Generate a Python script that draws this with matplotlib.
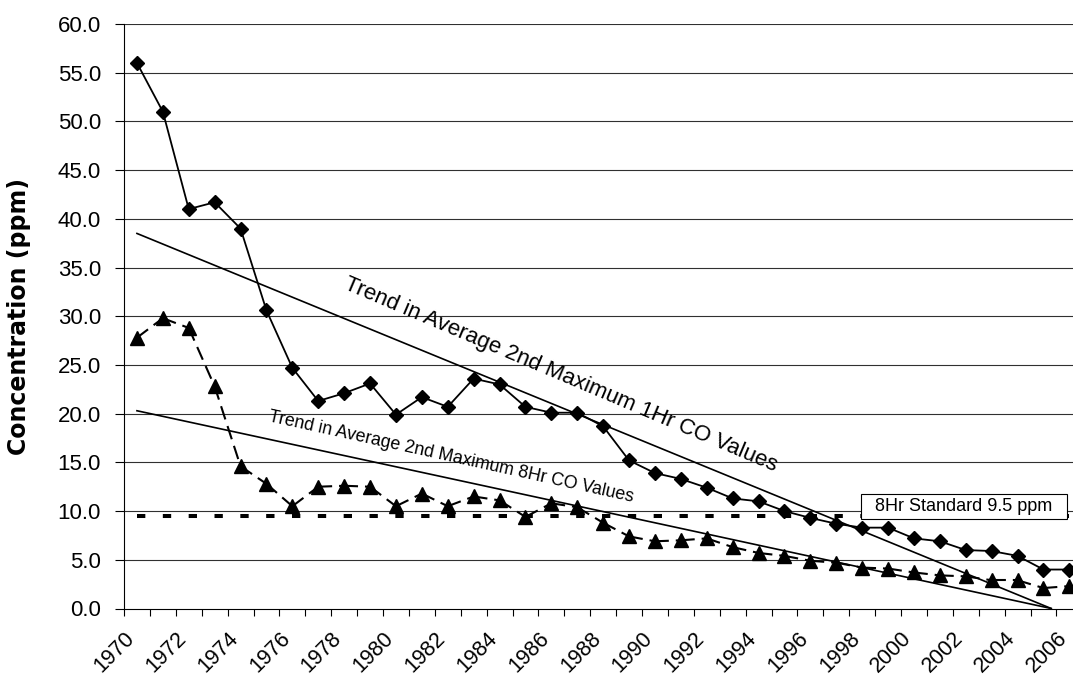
import matplotlib.pyplot as plt
import numpy as np
from matplotlib.patches import Rectangle

plt.rcParams['font.family'] = ['Liberation Sans', 'DejaVu Sans']
plt.rcParams['lines.scale_dashes'] = False

# 年份（每个类别一年）
years = np.arange(1970, 2007)

# 1小时CO平均第二最大值 (ppm)
co_1hr = [56.0, 51.0, 41.0, 41.7, 39.0, 30.6, 24.7, 21.3, 22.1, 23.1,
          19.9, 21.7, 20.7, 23.6, 23.0, 20.7, 20.1, 20.1, 18.7, 15.2,
          13.9, 13.3, 12.4, 11.3, 11.0, 10.0, 9.3, 8.7, 8.3, 8.3,
          7.2, 6.9, 6.0, 5.9, 5.4, 4.0, 4.0]

# 8小时CO平均第二最大值 (ppm)
co_8hr = [27.8, 29.8, 28.8, 22.8, 14.6, 12.8, 10.5, 12.5, 12.6, 12.5,
          10.5, 11.8, 10.5, 11.5, 11.1, 9.4, 10.8, 10.4, 8.8, 7.4,
          6.9, 7.0, 7.2, 6.3, 5.7, 5.4, 4.9, 4.7, 4.2, 4.1,
          3.7, 3.4, 3.3, 2.9, 2.9, 2.1, 2.3]

# 趋势线端点
trend_years = [1970, 2005.3]
trend_1hr = [38.5, 0.0]
trend_8hr = [20.3, 0.0]

# 8小时标准
std_8hr = 9.5
std_label = '8Hr Standard 9.5 ppm'

y_ticks = np.arange(0, 61, 5)

fig = plt.figure(figsize=(10.73, 6.81), dpi=100)
# 坐标区右侧超出画面（原图被裁切）
ax = fig.add_axes([124 / 1073, 72.5 / 681, 958.3 / 1073, 584.5 / 681])

x = years + 0.5  # 点位于类别中间

# 网格线
for v in y_ticks[1:]:
    ax.axhline(v, color='#303030', lw=0.8, zorder=1)

# 8小时标准虚线
ax.plot([x[0], x[-1]], [std_8hr, std_8hr], color='black', lw=2.9,
        dashes=(6, 12.6), solid_capstyle='butt', dash_capstyle='butt', zorder=2)

# 趋势线
ax.plot(np.array(trend_years) + 0.5, trend_1hr, color='black', lw=1.2, zorder=3)
ax.plot(np.array(trend_years) + 0.5, trend_8hr, color='black', lw=1.2, zorder=3)

# 1小时数据
ax.plot(x, co_1hr, color='black', lw=1.3, marker='D', markersize=7, zorder=4)

# 8小时数据：每段重新开始虚线（类似Excel）
for i in range(len(x) - 1):
    ax.plot(x[i:i + 2], co_8hr[i:i + 2], color='black', lw=1.5,
            dashes=(10, 5), dash_capstyle='butt', zorder=4)
ax.plot(x, co_8hr, linestyle='none', color='black', marker='^', markersize=10, zorder=5)

# 标准标签框
ax.add_patch(Rectangle((1998.46, 9.19), 7.95, 2.57, facecolor='white',
                       edgecolor='black', lw=0.8, zorder=6))
ax.text(1998.46 + 7.95 / 2, 9.19 + 2.57 / 2, std_label, fontsize=13,
        ha='center', va='center', zorder=7)

# 趋势线文字
ax.text(1986.87, 23.97, 'Trend in Average 2nd Maximum 1Hr CO Values',
        fontsize=16, rotation=-23, ha='center', va='center',
        rotation_mode='anchor', zorder=7)
ax.text(1982.63, 15.55, 'Trend in Average 2nd Maximum 8Hr CO Values',
        fontsize=12.8, rotation=-12.5, ha='center', va='center',
        rotation_mode='anchor', zorder=7)

# 坐标轴
ax.set_xlim(1970, 2007)
ax.set_ylim(0, 60)
ax.set_yticks(y_ticks)
ax.set_yticklabels(['%.1f' % v for v in y_ticks], fontsize=16)
ticks = np.arange(1970, 2008)
ax.set_xticks(ticks)
ax.set_xticklabels([str(t) if (t - 1970) % 2 == 0 and t <= 2006 else '' for t in ticks],
                   fontsize=15.5, rotation=45, ha='right', va='top', rotation_mode='anchor')
ax.tick_params(axis='y', direction='out', length=6.5, width=0.8, pad=10)
ax.tick_params(axis='x', direction='out', length=5, width=0.8, pad=9)
ax.spines['top'].set_visible(False)
ax.spines['right'].set_visible(False)
ax.spines['left'].set_linewidth(0.8)
ax.spines['bottom'].set_linewidth(0.8)

ax.set_ylabel('Concentration (ppm)', family='DejaVu Sans', fontweight='bold', fontsize=17)
ax.yaxis.set_label_coords(-0.097, 0.5)

plt.savefig('out.png', dpi=100)
